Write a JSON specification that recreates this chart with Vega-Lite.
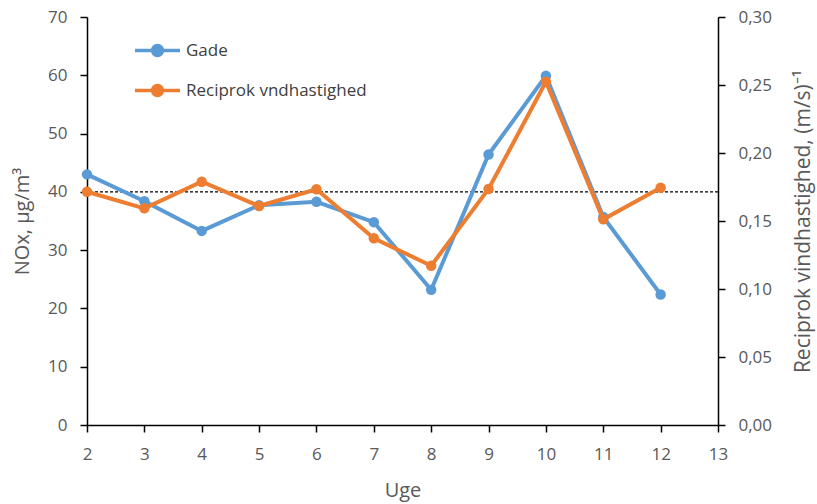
{
  "$schema": "https://vega.github.io/schema/vega-lite/v6.json",
  "autosize": {"type": "none"},
  "padding": {"left": 87, "top": 17, "right": 99, "bottom": 79},
  "width": 631,
  "height": 408,
  "background": "white",
  "config": {
    "view": {"stroke": null},
    "font": "Open Sans, sans-serif",
    "axis": {
      "grid": false,
      "domainColor": "black",
      "domainWidth": 1.5,
      "tickColor": "black",
      "tickWidth": 1.5,
      "tickSize": 7,
      "labelFont": "Open Sans, sans-serif",
      "labelFontSize": 17,
      "labelColor": "#595959",
      "titleFont": "Open Sans, sans-serif",
      "titleFontSize": 20,
      "titleFontWeight": "normal",
      "titleColor": "#595959"
    }
  },
  "data": {
    "values": [
      {"uge": 2, "gade": 43.0, "recip": 0.1715},
      {"uge": 3, "gade": 38.4, "recip": 0.1593},
      {"uge": 4, "gade": 33.3, "recip": 0.1789},
      {"uge": 5, "gade": 37.7, "recip": 0.161},
      {"uge": 6, "gade": 38.3, "recip": 0.1733},
      {"uge": 7, "gade": 34.8, "recip": 0.1373},
      {"uge": 8, "gade": 23.2, "recip": 0.1171},
      {"uge": 9, "gade": 46.4, "recip": 0.1735},
      {"uge": 10, "gade": 59.9, "recip": 0.2524},
      {"uge": 11, "gade": 35.7, "recip": 0.1512},
      {"uge": 12, "gade": 22.4, "recip": 0.1745}
    ]
  },
  "layer": [
    {
      "layer": [
        {
          "data": {"values": [{"ref": 40}]},
          "mark": {"type": "rule", "color": "black", "strokeDash": [3, 2], "strokeWidth": 1.2},
          "encoding": {"y": {"field": "ref", "type": "quantitative"}}
        },
        {
          "mark": {"type": "line", "strokeWidth": 4, "point": {"filled": true, "size": 110, "opacity": 1}},
          "encoding": {
            "x": {
              "field": "uge", "type": "quantitative",
              "scale": {"domain": [2, 13], "nice": false, "zero": false},
              "axis": {"title": "Uge", "values": [2,3,4,5,6,7,8,9,10,11,12,13], "format": "d", "titlePadding": 18, "labelPadding": 14, "labelFlush": false}
            },
            "y": {
              "field": "gade", "type": "quantitative",
              "scale": {"domain": [0, 70], "nice": false},
              "axis": {
                "title": "NOx, µg/m³",
                "orient": "left",
                "values": [0,5,10,15,20,25,30,35,40,45,50,55,60,65,70],
                "labelExpr": "datum.value % 10 === 0 ? datum.label : ''",
                "labelPadding": 13,
                "titlePadding": 15
              }
            },
            "color": {
              "datum": "Gade",
              "type": "nominal",
              "scale": {"domain": ["Gade", "Reciprok vndhastighed"], "range": ["#5B9BD5", "#ED7D31"]},
              "legend": {
                "title": null,
                "orient": "none",
                "legendX": 46,
                "legendY": 9,
                "symbolType": "M -1 0 L 1 0 M -0.22 0 A 0.22 0.22 0 1 1 0.22 0 A 0.22 0.22 0 1 1 -0.22 0",
                "symbolSize": 2025,
                "symbolStrokeWidth": 3.5,
                "labelFontSize": 17,
                "labelColor": "#404040",
                "labelFont": "Open Sans, sans-serif",
                "labelOffset": 4,
                "labelLimit": 400,
                "rowPadding": 3,
                "encode": {
                  "symbols": {"update": {"fill": {"scale": "color", "field": "value"}, "fillOpacity": {"value": 1}, "opacity": {"value": 1}}}
                }
              }
            }
          }
        }
      ]
    },
    {
      "mark": {"type": "line", "strokeWidth": 4, "point": {"filled": true, "size": 110, "opacity": 1}},
      "encoding": {
        "x": {"field": "uge", "type": "quantitative"},
        "y": {
          "field": "recip", "type": "quantitative",
          "scale": {"domain": [0, 0.3], "nice": false},
          "axis": {
            "title": "Reciprok vindhastighed, (m/s)⁻¹",
            "orient": "right",
            "values": [0, 0.05, 0.1, 0.15, 0.2, 0.25, 0.3],
            "labelExpr": "replace(format(datum.value, '.2f'), '.', ',')",
            "labelPadding": 13,
            "titleAngle": 270,
            "titleFontSize": 21,
            "titlePadding": 42
          }
        },
        "color": {"datum": "Reciprok vndhastighed", "type": "nominal"}
      }
    }
  ],
  "resolve": {"scale": {"y": "independent"}}
}
